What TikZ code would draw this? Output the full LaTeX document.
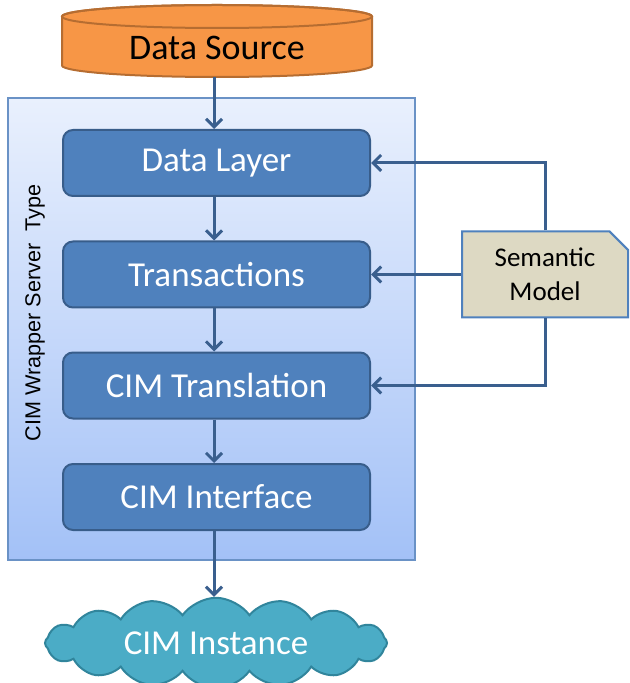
\documentclass[tikz,border=0pt]{standalone}
\usepackage{fontspec}
\setmainfont{Carlito}
\newfontfamily\arialfont{Liberation Sans}
\usetikzlibrary{arrows.meta,shapes.misc,shapes.symbols}

\definecolor{srcfill}{HTML}{F79646}
\definecolor{srcline}{HTML}{B66D31}
\definecolor{layerfill}{HTML}{4F81BD}
\definecolor{layerline}{HTML}{385D8A}
\definecolor{wraptop}{HTML}{E9F0FD}
\definecolor{wrapbot}{HTML}{A3C1F7}
\definecolor{wrapline}{HTML}{6A92C6}
\definecolor{cloudfill}{HTML}{4BACC6}
\definecolor{cloudline}{HTML}{31859C}
\definecolor{semfill}{HTML}{DDD9C3}
\definecolor{arrline}{HTML}{3A5F8E}

\tikzset{
  layer/.style={draw=layerline,line width=1pt,fill=layerfill,rounded corners=5pt,
    minimum width=153.5pt,minimum height=33pt,inner sep=0pt,text=white,
    font=\fontsize{17.5}{20}\selectfont},
  flow/.style={draw=arrline,line width=1.5pt,-{Straight Barb[length=4pt,width=8pt,line width=1.5pt]}},
}

\begin{document}
\begin{tikzpicture}[x=0.5pt,y=-0.5pt]
\useasboundingbox (0,0) rectangle (629,683);

% data source
\path[fill=srcfill,draw=srcline,line width=1pt] (62,16.5) -- (62,65.5) arc (180:0:155 and 11.5) -- (372,16.5) arc (0:-180:155 and 11.5) -- cycle;
\draw[srcline,line width=1pt] (217,16.5) ellipse (155 and 11.5);
\node [inner sep=0pt,font=\fontsize{18}{20}\selectfont] (src) at(217,48){Data Source};
\coordinate (srcb) at (214,77);

% wrapper box
\node [draw=wrapline,line width=0.75pt,top color=wraptop,bottom color=wrapbot,
  minimum width=203.5pt,minimum height=231pt,inner sep=0pt] (wrap) at(211.5,329){};
\node [rotate=90,font=\arialfont\fontsize{10.8}{13}\selectfont] (wraplbl) at(35,313){CIM Wrapper Server\ \ Type};

\node [layer] (dl) at(216.5,163){Data Layer};
\node [layer] (tr) at(216.5,274.5){Transactions};
\node [layer] (ct) at(216.5,385.5){CIM Translation};
\node [layer] (ci) at(216.5,497){CIM Interface};

% semantic model
\node [chamfered rectangle,chamfered rectangle corners=north east,chamfered rectangle xsep=6pt,
  draw=layerfill,line width=1pt,fill=semfill,minimum width=83pt,minimum height=43pt,inner sep=0pt,
  align=center,font=\fontsize{13.5}{17}\selectfont] (sem) at(545,274.5){Semantic\\Model};

% cim instance
\node [cloud,cloud puffs=16,cloud puff arc=110,aspect=4,draw=cloudline,line width=1pt,fill=cloudfill,
  minimum width=171pt,minimum height=42pt,inner sep=0pt,text=white,
  font=\fontsize{17.5}{20}\selectfont] (inst) at(216,643){CIM Instance};

\draw[flow] (srcb) -- (dl.north -| srcb);
\draw[flow] (dl.south -| srcb) -- (tr.north -| srcb);
\draw[flow] (tr.south -| srcb) -- (ct.north -| srcb);
\draw[flow] (ct.south -| srcb) -- (ci.north -| srcb);
\draw[flow] (ci.south -| srcb) -- (inst.north -| srcb);

\draw[flow] (sem.north) |- (dl.east);
\draw[flow] (sem.west) -- (tr.east);
\draw[flow] (sem.south) |- (ct.east);
\end{tikzpicture}
\end{document}
